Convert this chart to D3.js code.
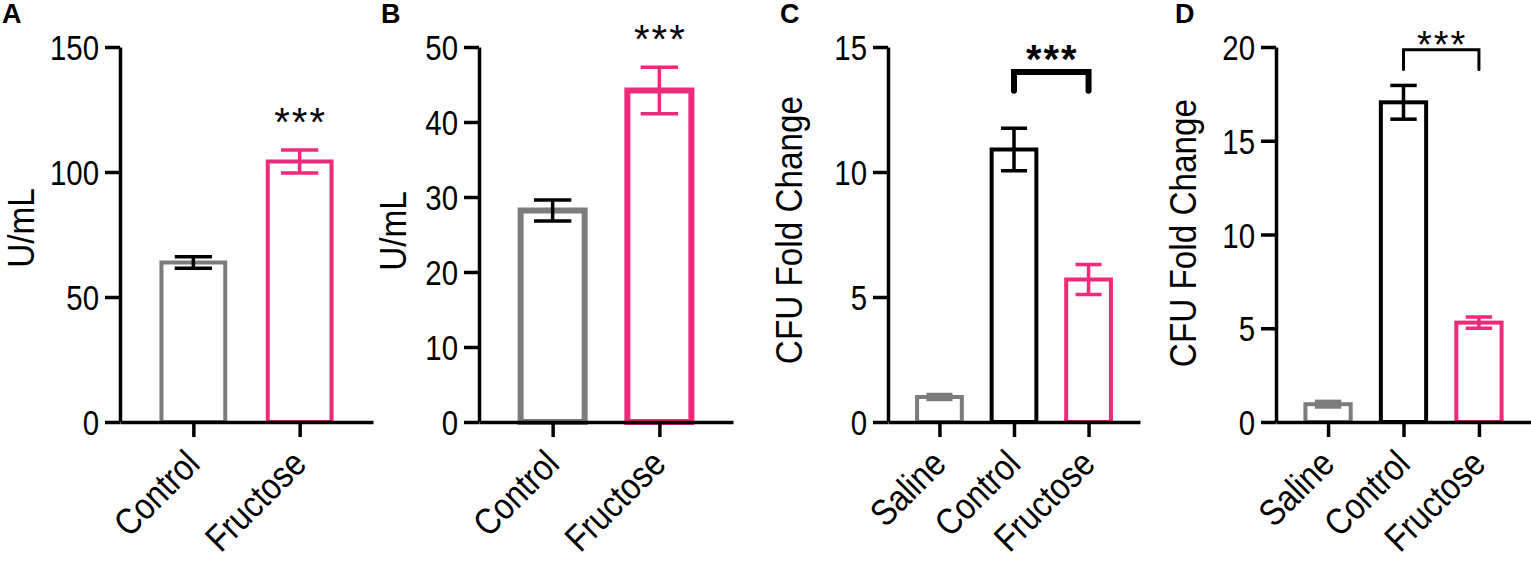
<!DOCTYPE html>
<html>
<head>
<meta charset="utf-8">
<script src="https://cdn.jsdelivr.net/npm/d3@7"></script>
<style>
  body { margin: 0; background: #fff; }
  svg { display: block; }
  text { font-family: "Liberation Sans", Arial, sans-serif; fill: #000; }
</style>
</head>
<body>
<svg id="chart" width="1531" height="561"></svg>
<script>
// ---- data ----
const catsA = ["Control", "Fructose"];
const valuesA = [63.8, 104.2];
const errorsA = [2.3, 4.6];
const ticksA = [0, 50, 100, 150];

const catsB = ["Control", "Fructose"];
const valuesB = [28.2, 44.2];
const errorsB = [1.4, 3.1];
const ticksB = [0, 10, 20, 30, 40, 50];

const catsC = ["Saline", "Control", "Fructose"];
const valuesC = [1.0, 10.9, 5.7];
const errorsC = [0.1, 0.85, 0.6];
const ticksC = [0, 5, 10, 15];

const catsD = ["Saline", "Control", "Fructose"];
const valuesD = [0.95, 17.05, 5.3];
const errorsD = [0.15, 0.9, 0.3];
const ticksD = [0, 5, 10, 15, 20];

const panelLetters = ["A", "B", "C", "D"];
const yTitles = ["U/mL", "U/mL", "CFU Fold Change", "CFU Fold Change"];

// significance marks: stars over one bar (A, B) or a bracket between two bars (C, D)
const starsA = { cat: "Fructose", value: 123.6 };
const starsB = { cat: "Fructose", value: 52.3 };
const bracketC = { from: "Control", to: "Fructose", top: 14.0, leg: 13.25, stars: 14.9 };
const bracketD = { from: "Control", to: "Fructose", top: 19.85, leg: 18.8, stars: 20.6 };

// ---- styling ----
const gray = "#7c7c7c";
const pink = "#ee2a7b";
const errColor = { Saline: gray, Control: "#000", Fructose: pink };

const svg = d3.select("#chart");
const plotTop = 47, plotBottom = 422;

const panels = [
  { cats: catsA, values: valuesA, errors: errorsA, ticks: ticksA, stars: starsA,
    barColor: { Control: gray, Fructose: pink },
    axisX: 120, axisEnd: 373, barStroke: 4, letterX: 2, titleX: 34, titleY: 228, starSize: 40 },
  { cats: catsB, values: valuesB, errors: errorsB, ticks: ticksB, stars: starsB,
    barColor: { Control: gray, Fructose: pink },
    axisX: 479, axisEnd: 733, barStroke: 6, letterX: 381, titleX: 406, titleY: 231, starSize: 40 },
  { cats: catsC, values: valuesC, errors: errorsC, ticks: ticksC, bracket: bracketC,
    barColor: { Saline: gray, Control: "#000", Fructose: pink },
    axisX: 888, axisEnd: 1140, barStroke: 4, letterX: 780, titleX: 802, titleY: 230,
    starSize: 40, bracketWidth: 6 },
  { cats: catsD, values: valuesD, errors: errorsD, ticks: ticksD, bracket: bracketD,
    barColor: { Saline: gray, Control: "#000", Fructose: pink },
    axisX: 1276, axisEnd: 1531, barStroke: 4, letterX: 1175, titleX: 1196, titleY: 233,
    starSize: 38, bracketWidth: 3 }
];

panels.forEach((p, i) => drawPanel(p, i));

function drawPanel(p, i) {
  const g = svg.append("g");

  const x = d3.scalePoint()
    .domain(p.cats)
    .range([p.axisX, p.axisEnd])
    .padding(0.69);
  const y = d3.scaleLinear()
    .domain([0, d3.max(p.ticks)])
    .range([plotBottom, plotTop]);

  const step = x.step();
  const bw = step * 0.6;
  const capW = step * 0.35;
  const rows = p.cats.map((c, k) => ({ cat: c, v: p.values[k], e: p.errors[k] }));

  // hollow bars
  g.selectAll("rect.bar")
    .data(rows)
    .join("rect")
    .attr("class", "bar")
    .attr("x", d => x(d.cat) - bw / 2)
    .attr("y", d => y(d.v))
    .attr("width", bw)
    .attr("height", d => y(0) - y(d.v))
    .attr("fill", "#fff")
    .attr("stroke", d => p.barColor[d.cat])
    .attr("stroke-width", p.barStroke);

  // error bars
  const eb = g.selectAll("g.err")
    .data(rows)
    .join("g")
    .attr("class", "err")
    .attr("stroke", d => errColor[d.cat])
    .attr("stroke-width", 3.5);
  eb.append("line")
    .attr("x1", d => x(d.cat)).attr("x2", d => x(d.cat))
    .attr("y1", d => y(d.v - d.e)).attr("y2", d => y(d.v + d.e));
  eb.selectAll("line.cap")
    .data(d => [{ cat: d.cat, v: d.v + d.e }, { cat: d.cat, v: d.v - d.e }])
    .join("line")
    .attr("class", "cap")
    .attr("x1", d => x(d.cat) - capW / 2).attr("x2", d => x(d.cat) + capW / 2)
    .attr("y1", d => y(d.v)).attr("y2", d => y(d.v));

  // y axis (condensed-looking tick labels)
  const ya = g.append("g")
    .attr("transform", `translate(${p.axisX},0)`)
    .call(d3.axisLeft(y).tickValues(p.ticks).tickSize(15).tickSizeOuter(0).tickFormat(d3.format("d")));
  ya.selectAll("text")
    .attr("x", -21 / 0.84)
    .attr("dy", "0.36em")
    .attr("transform", "scale(0.84,1)")
    .attr("font-size", 35);

  // x axis with slanted labels
  const xa = g.append("g")
    .attr("transform", `translate(0,${plotBottom})`)
    .call(d3.axisBottom(x).tickSize(15).tickSizeOuter(0));
  xa.selectAll("text").remove();
  xa.selectAll(".tick").append("text")
    .attr("text-anchor", "end")
    .attr("transform", "translate(8,44) rotate(-45) scale(0.86,1)")
    .attr("font-size", 37)
    .text(d => d);

  [ya, xa].forEach(a => {
    a.select(".domain").attr("stroke", "#000").attr("stroke-width", 3.5);
    a.selectAll(".tick line").attr("stroke", "#000").attr("stroke-width", 3.5);
    a.selectAll("text").attr("fill", "#000").attr("font-family", "Liberation Sans, Arial, sans-serif");
  });

  // y title
  g.append("text")
    .attr("transform", `translate(${p.titleX},${p.titleY}) rotate(-90) scale(0.9,1)`)
    .attr("text-anchor", "middle")
    .attr("font-size", 37)
    .text(yTitles[i]);

  // panel letter
  g.append("text")
    .attr("x", p.letterX)
    .attr("y", 23)
    .attr("font-size", 27)
    .attr("font-weight", "bold")
    .text(panelLetters[i]);

  // significance
  let starX, starV;
  if (p.stars) {
    starX = x(p.stars.cat);
    starV = p.stars.value;
  } else {
    const b = p.bracket;
    g.append("path")
      .attr("d", d3.line()([
        [x(b.from), y(b.leg)], [x(b.from), y(b.top)],
        [x(b.to), y(b.top)], [x(b.to), y(b.leg)]
      ]))
      .attr("fill", "none")
      .attr("stroke", "#000")
      .attr("stroke-width", p.bracketWidth)
      .attr("stroke-linecap", "round");
    starX = (x(b.from) + x(b.to)) / 2;
    starV = b.stars;
  }
  g.append("text")
    .attr("x", starX + 1)
    .attr("y", y(starV) + p.starSize * 0.575)
    .attr("text-anchor", "middle")
    .attr("font-size", p.starSize)
    .attr("font-weight", p.bracket && p.bracketWidth > 4 ? "bold" : "normal")
    .attr("letter-spacing", 2)
    .text("***");
}
</script>
</body>
</html>
